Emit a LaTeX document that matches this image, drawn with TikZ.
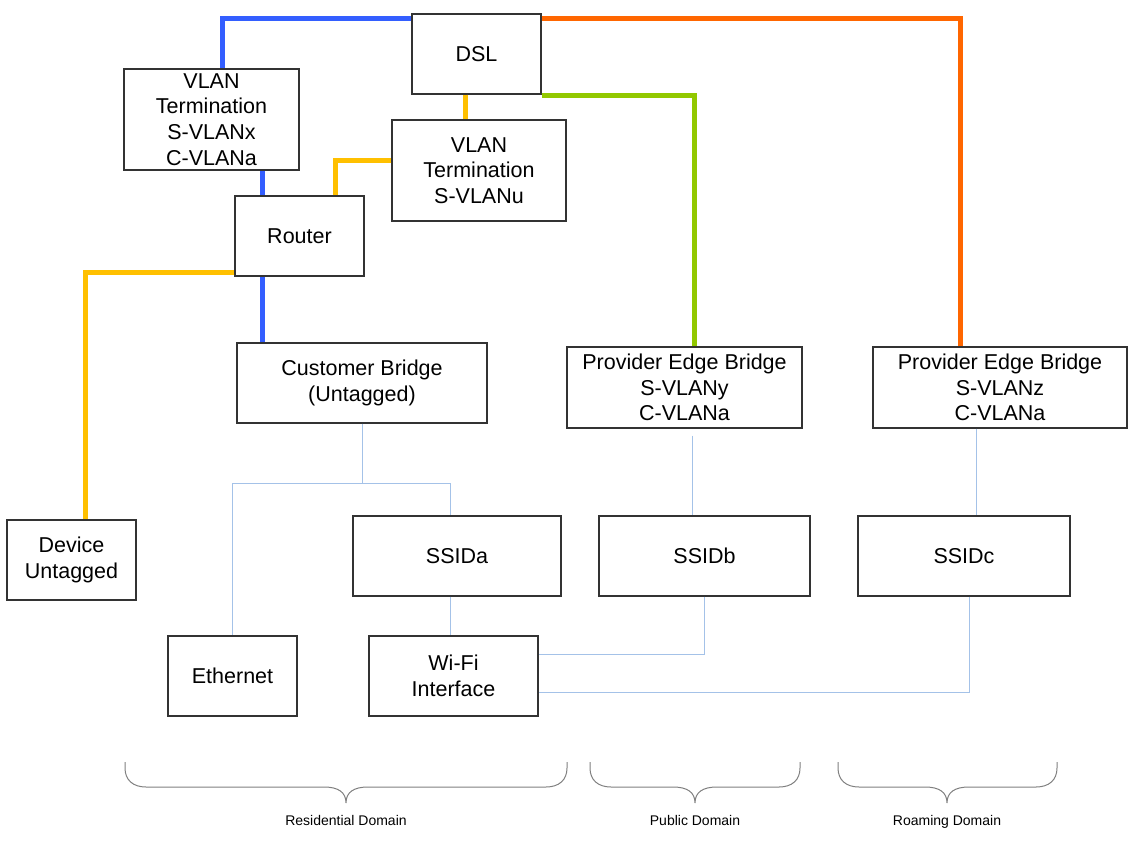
\documentclass[tikz,border=0pt]{standalone}
\usepackage{fontspec}
\setmainfont{Liberation Sans}
\usepackage{tikz}
\usetikzlibrary{calc, positioning}

\definecolor{vlanblue}{RGB}{51,94,255}
\definecolor{vlanorange}{RGB}{255,102,0}
\definecolor{vlangreen}{RGB}{146,200,0}
\definecolor{vlanyellow}{RGB}{255,192,0}
\definecolor{linkblue}{RGB}{164,194,232}
\definecolor{bracegray}{RGB}{128,128,128}

\begin{document}
\begin{tikzpicture}[x=1pt, y=-1pt,
    box/.style={draw=black!80, line width=1.3pt, fill=white, align=center,
        inner sep=0pt, font=\fontsize{21.5}{25.7}\selectfont},
    trunk/.style={line width=5pt},
    link/.style={draw=linkblue, line width=1pt},
    domainbrace/.style={draw=bracegray, line width=1pt},
    domainlabel/.style={anchor=base, font=\fontsize{14}{16}\selectfont}]

    \useasboundingbox (0,0) rectangle (1131,841);

    % =================================================================
    % 1. NETWORK BOXES
    % =================================================================
    \node[box, minimum width=129pt, minimum height=80pt] (dsl) at (476.5,54) {DSL};
    \node[box, minimum width=175pt, minimum height=101pt] (vtx) at (211.5,119.5)
        {VLAN\\Termination\\S-VLANx\\C-VLANa};
    \node[box, minimum width=174pt, minimum height=101pt] (vtu) at (479,170.5)
        {VLAN\\Termination\\S-VLANu};
    \node[box, minimum width=129pt, minimum height=80pt] (router) at (299.5,236) {Router};

    % Bridges
    \node[box, minimum width=250pt, minimum height=80pt] (cb) at (362,383)
        {Customer Bridge\\(Untagged)};
    \node[box, minimum width=235pt, minimum height=81pt] (peby) at (684.5,387.5)
        {Provider Edge Bridge\\S-VLANy\\C-VLANa};
    \node[box, minimum width=254pt, minimum height=81pt] (pebz) at (1000,387.5)
        {Provider Edge Bridge\\S-VLANz\\C-VLANa};

    % SSIDs and device
    \node[box, minimum width=129pt, minimum height=80pt] (device) at (71.5,560)
        {Device\\Untagged};
    \node[box, minimum width=208pt, minimum height=80pt] (ssida) at (457,556) {SSIDa};
    \node[box, minimum width=211pt, minimum height=80pt] (ssidb) at (704.5,556) {SSIDb};
    \node[box, minimum width=212pt, minimum height=80pt] (ssidc) at (964,556) {SSIDc};

    % Interfaces
    \node[box, minimum width=129pt, minimum height=80pt] (eth) at (232.5,676) {Ethernet};
    \node[box, minimum width=169pt, minimum height=80pt] (wifi) at (453.5,676)
        {Wi-Fi\\Interface};

    % =================================================================
    % 2. BEND POINTS OF THE CONNECTORS
    % =================================================================
    \coordinate (bx) at (222,18);
    \coordinate (bv) at (262,0);
    \coordinate (ox) at (960,18);
    \coordinate (gx) at (694,95);
    \coordinate (yx) at (465,0);
    \coordinate (yr) at (335,160);
    \coordinate (yd) at (85,272);
    \coordinate (cx) at (362,483);
    \coordinate (sa) at (450,0);
    \coordinate (wb) at (0,654);
    \coordinate (wc) at (969,692);
    \coordinate (pb) at (692,0);
    \coordinate (pc) at (976,0);

    % =================================================================
    % 3. VLAN TRUNKS (THICK COLOURED LINES)
    % =================================================================
    \draw[trunk, vlanblue] (dsl.west |- bx) -| (vtx.north -| bx);
    \draw[trunk, vlanblue] (vtx.south -| bv) -- (router.north -| bv);
    \draw[trunk, vlanblue] (router.south -| bv) -- (cb.north -| bv);

    \draw[trunk, vlanorange] (dsl.east |- ox) -| (pebz.north -| ox);
    \draw[trunk, vlangreen] (dsl.east |- gx) -| (peby.north -| gx);

    \draw[trunk, vlanyellow] (dsl.south -| yx) -- (vtu.north -| yx);
    \draw[trunk, vlanyellow] (vtu.west |- yr) -| (router.north -| yr);
    \draw[trunk, vlanyellow] (router.west |- yd) -| (device.north -| yd);

    % =================================================================
    % 4. THIN LINKS TO SSIDS AND INTERFACES
    % =================================================================
    \draw[link] (cb.south) -- (cx) -| (eth.north);
    \draw[link] (cx) -| (ssida.north -| sa);
    \draw[link] (ssida.south -| sa) -- (wifi.north -| sa);
    \draw[link, shorten <=7pt] (peby.south -| pb) -- (ssidb.north -| pb);
    \draw[link] (pebz.south -| pc) -- (ssidc.north -| pc);
    \draw[link] (ssidb.south) |- (wifi.east |- wb);
    \draw[link] (ssidc.south -| wc) |- (wifi.east |- wc);

    % =================================================================
    % 5. DOMAIN BRACES
    % =================================================================
    \foreach \l/\m/\r in {125/346/567, 590/695/800, 838/947/1057}
        \draw[domainbrace] (\l,762) -- (\l,768)
            .. controls (\l,780) and (\l+8,787) .. (\l+21,787) -- (\m-22,787)
            .. controls (\m-8,787) and (\m,792) .. (\m,803)
            .. controls (\m,792) and (\m+8,787) .. (\m+22,787) -- (\r-21,787)
            .. controls (\r-8,787) and (\r,780) .. (\r,768) -- (\r,762);

    \node[domainlabel] (resd) at (346,825) {Residential Domain};
    \node[domainlabel] (pubd) at (695,825) {Public Domain};
    \node[domainlabel] (roamd) at (947,825) {Roaming Domain};

\end{tikzpicture}
\end{document}
